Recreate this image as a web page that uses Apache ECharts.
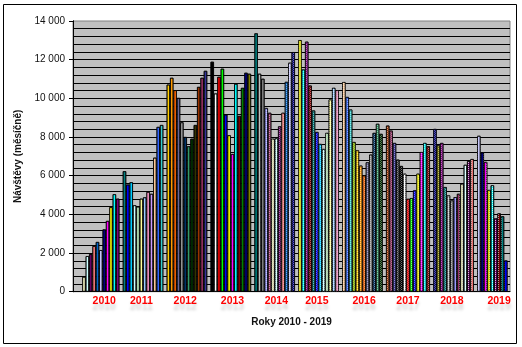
<!DOCTYPE html>
<html><head><meta charset="utf-8">
<script src="https://cdn.jsdelivr.net/npm/echarts@6/dist/echarts.min.js"></script>
<style>html,body{margin:0;padding:0;background:#fff}#c{width:522px;height:347px}</style>
</head><body><div id="c"></div>
<script>
// Excel 97-2003 chart fill colour order (vary colours by point)
const palette = ['#9999FF','#993366','#FFFFCC','#CCFFFF','#660066','#FF8080','#0066CC','#CCCCFF','#000080','#FF00FF','#FFFF00','#00FFFF','#800080','#800000','#008080','#0000FF','#00CCFF','#CCFFFF','#CCFFCC','#FFFF99','#99CCFF','#FF99CC','#CC99FF','#FFCC99','#3366FF','#33CCCC','#99CC00','#FFCC00','#FF9900','#FF6600','#666699','#969696','#003366','#339966','#003300','#333300','#993300','#993366','#333399','#333333','#000000','#FFFFFF','#FF0000','#00FF00','#0000FF','#FFFF00','#FF00FF','#00FFFF','#800000','#008000','#000080','#808000','#800080','#008080','#C0C0C0','#808080'];

const years = ['2010','2011','2012','2013','2014','2015','2016','2017','2018','2019'];
const visits2010 = [770,1840,1940,2360,2570,2150,3220,3660,4370,5040,4810];
const visits2011 = [6230,5540,5660,4470,4400,4810,4880,5160,5060,6930,8520,8620];
const visits2012 = [10710,11060,10420,10020,8760,8000,7520,7910,8620,10590,11060,11420];
const visits2013 = [11890,10250,11110,11530,9160,8090,7120,10750,9090,10540,11320,11270];
const visits2014 = [13360,11270,11010,9500,9250,7910,7930,8550,9250,10850,11840,12390];
const visits2015 = [13010,11490,12930,10660,9370,8260,7640,7380,8210,9940,10540,10420];
const visits2016 = [10840,10070,9420,7740,7310,6520,6010,6690,7090,8210,8680,8160];
const visits2017 = [8590,8330,7690,6830,6500,6100,4800,4840,5240,6100,7220,7690,7520];
const visits2018 = [8415,7570,7690,5410,4980,4720,4890,5060,5580,6560,6750,6860];
const visits2019 = [8060,7200,6710,5260,5500,3790,4050,3900,1615];
const yearValues = [visits2010,visits2011,visits2012,visits2013,visits2014,visits2015,visits2016,visits2017,visits2018,visits2019];
const leadingBlanks = 2;
const yTickValues = [0,2000,4000,6000,8000,10000,12000,14000];
const yearLabelSlots = [8,19,32,46,59,71,85,98,111,125];

const slots = [];
for (let i = 0; i < leadingBlanks; i++) slots.push(null);
yearValues.forEach((arr, yi) => {
  arr.forEach(v => slots.push(v));
  if (yi < yearValues.length - 1) slots.push(null);
});
const categories = slots.map((v, i) => 'p' + i);
const labelMap = {};
yearLabelSlots.forEach((s, i) => { labelMap[s] = years[i]; });

function mixWhite(hex, t) {
  const n = parseInt(hex.slice(1), 16);
  const r = (n >> 16) & 255, g = (n >> 8) & 255, b = n & 255;
  const f = c => Math.round(c + (255 - c) * t);
  return 'rgb(' + f(r) + ',' + f(g) + ',' + f(b) + ')';
}

const checker = { symbol: 'rect', symbolSize: 1, dashArrayX: [[1,1],[0,1,1,0]], dashArrayY: [1,0], rotation: 0 };
const dotted = { symbol: 'rect', symbolSize: 1, dashArrayX: [1,2], dashArrayY: [1,1], rotation: 0 };
const noDecal = { symbol: 'rect', symbolSize: 1, dashArrayX: [1,0], dashArrayY: [1,0], color: 'rgba(0,0,0,0)' };

const barData = slots.map((v, i) => {
  const col = palette[i % palette.length];
  const cycle = Math.floor(i / palette.length);
  const item = { value: v, itemStyle: { color: col, decal: noDecal } };
  if (cycle === 1) {
    item.itemStyle = { color: mixWhite(col, 0.45), decal: Object.assign({ color: col }, checker) };
  } else if (cycle >= 2) {
    item.itemStyle = { color: col, decal: Object.assign({ color: 'rgba(255,255,255,0.75)' }, dotted) };
  }
  return item;
});

const chart = echarts.init(document.getElementById('c'), null, { renderer: 'canvas' });
const font = 'Liberation Sans, Arial, sans-serif';
chart.setOption({
  animation: false,
  aria: { enabled: true, decal: { show: true } },
  backgroundColor: '#ffffff',
  grid: [
    { left: 73, right: 12, top: 21, bottom: 55.3, show: true, backgroundColor: '#C0C0C0', borderColor: '#808080', borderWidth: 1 },
    { left: 75.55, right: 14.45, top: 21, bottom: 55.3 }
  ],
  xAxis: [
    { gridIndex: 0, type: 'value', min: 0, max: 1, axisLine: { show: true, onZero: false, lineStyle: { color: '#000', width: 1 } },
      axisTick: { show: false }, axisLabel: { show: false }, splitLine: { show: false } },
    { gridIndex: 1, type: 'category', data: categories, boundaryGap: true,
      axisLine: { show: false }, axisTick: { show: false }, splitLine: { show: false },
      axisLabel: { show: true, interval: 0, margin: 4, color: '#FF0000', fontFamily: font, fontWeight: 'bold', fontSize: 10.5,
        textShadowColor: 'rgba(0,0,0,0.18)', textShadowBlur: 3, textShadowOffsetY: 6,
        formatter: (val, idx) => labelMap[idx] || '' },
      name: 'Roky 2010 - 2019', nameLocation: 'middle', nameGap: 26,
      nameTextStyle: { color: '#111', fontFamily: font, fontWeight: 'bold', fontSize: 10 } }
  ],
  yAxis: [
    { gridIndex: 0, type: 'value', min: 0, max: 14000, interval: 400,
      axisLine: { show: true, lineStyle: { color: '#000', width: 1 } }, axisTick: { show: false }, axisLabel: { show: false },
      splitLine: { show: true, showMaxLine: false, lineStyle: { color: '#000', width: 1 } } },
    { gridIndex: 0, type: 'value', min: 0, max: 14000, interval: 2000, position: 'left',
      axisLine: { show: true, lineStyle: { color: '#000', width: 1 } },
      axisTick: { show: true, length: 4, lineStyle: { color: '#000' } },
      splitLine: { show: false },
      axisLabel: { color: '#111', fontFamily: font, fontSize: 10, margin: 8,
        formatter: v => yTickValues.indexOf(v) >= 0 ? String(v).replace(/\B(?=(\d{3})+(?!\d))/g, ' ') : '' },
      name: 'Návštěvy (měsíčně)', nameLocation: 'middle', nameGap: 40,
      nameTextStyle: { color: '#111', fontFamily: font, fontWeight: 'bold', fontSize: 10 } },
    { gridIndex: 1, type: 'value', min: 0, max: 14000, show: false }
  ],
  series: [{
    type: 'bar', xAxisIndex: 1, yAxisIndex: 2, data: barData,
    barWidth: '100%', barCategoryGap: 0,
    itemStyle: { borderColor: '#000', borderWidth: 0.7 }
  }],
  graphic: [{ type: 'rect', shape: { x: 3.5, y: 4.5, width: 513, height: 339 }, style: { fill: null, stroke: '#000', lineWidth: 1 }, silent: true }]
});
</script></body></html>
